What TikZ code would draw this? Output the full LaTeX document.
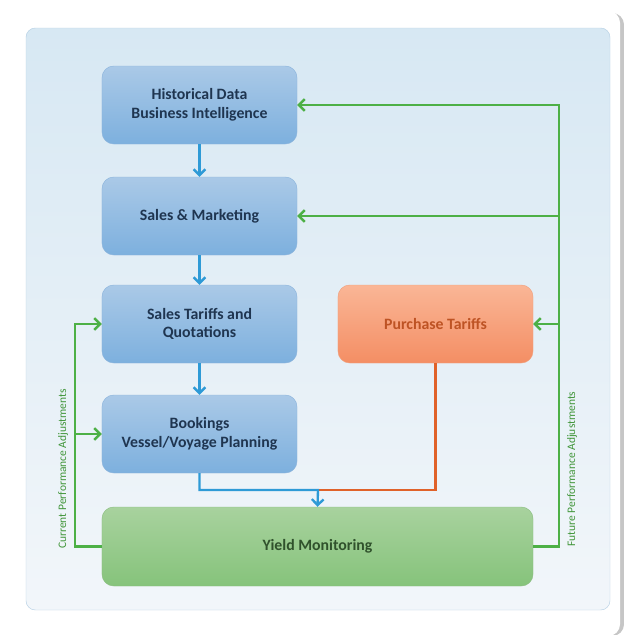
\documentclass[tikz,border=0pt]{standalone}
\usepackage{fontspec}
\setmainfont{Carlito}
\usetikzlibrary{arrows.meta,calc}
\definecolor{navytext}{HTML}{1F3550}
\definecolor{yieldtext}{RGB}{48,82,44}
\definecolor{flowblue}{HTML}{2E9AD6}
\definecolor{flowgreen}{HTML}{4DB046}
\definecolor{floworange}{HTML}{E0622A}
\definecolor{bluetop}{RGB}{170,201,231}
\definecolor{bluebot}{RGB}{125,176,222}
\definecolor{blueedge}{RGB}{140,180,220}
\definecolor{orangetop}{RGB}{250,182,150}
\definecolor{orangebot}{RGB}{244,142,100}
\definecolor{orangeedge}{RGB}{240,160,125}
\definecolor{greentop}{RGB}{168,210,158}
\definecolor{greenbot}{RGB}{134,195,123}
\definecolor{greenedge}{RGB}{140,190,130}
\definecolor{paneltop}{RGB}{215,232,243}
\definecolor{panelbot}{RGB}{242,246,250}
\definecolor{paneledge}{RGB}{185,210,230}
\begin{document}
\begin{tikzpicture}[x=0.03cm,y=-0.03cm,
    stepbox/.style={rounded corners=10pt,draw=#1edge,top color=#1top,bottom color=#1bot,
      line width=0.4pt,minimum width=5.85cm,minimum height=2.34cm,align=center,
      font=\fontsize{13.5}{16}\selectfont\bfseries,text=navytext},
    bluearrow/.style={flowblue,line width=2pt,-{Straight Barb[length=5pt,width=10pt]}},
    greenarrow/.style={flowgreen,line width=2pt,-{Straight Barb[length=5pt,width=10pt]}},
    adjlabel/.style={rotate=90,text=flowgreen!85!black,font=\fontsize{9.8}{11}\selectfont}]
  \useasboundingbox (0,0) rectangle (624,635);
  % card and panel
  \fill[gray!45,rounded corners=10pt] (12,13) rectangle (624,636);
  \fill[white,rounded corners=10pt] (9,11) rectangle (620,636);
  \draw[draw=paneledge,top color=paneltop,bottom color=panelbot,rounded corners=8pt]
    (26,28) rectangle (610,610);
  % boxes
  \node [stepbox=blue] (hist) at (199.5,105) {Historical Data\\Business Intelligence};
  \node [stepbox=blue] (mkt) at (199.5,216) {Sales \& Marketing};
  \node [stepbox=blue] (tariff) at (199.5,324) {Sales Tariffs and\\Quotations};
  \node [stepbox=blue] (book) at (199.5,434) {Bookings\\Vessel/Voyage Planning};
  \node [stepbox=orange,text=floworange!85!black] (purch) at (435.5,324) {Purchase Tariffs};
  \node [stepbox=green,minimum width=12.93cm,minimum height=2.37cm,
    text=yieldtext] (yield) at (317.5,546.5) {Yield Monitoring};
  % main flow
  \coordinate (join) at (318,490);
  \draw [bluearrow] (hist) -- (mkt);
  \draw [bluearrow] (mkt) -- (tariff);
  \draw [bluearrow] (tariff) -- (book);
  \draw [floworange,line width=2pt] (purch.south) |- (join);
  \draw [bluearrow] (book.south) |- (join) -- (yield.north);
  % feedback loops
  \coordinate (fline) at (559,0);
  \coordinate (cline) at (75,0);
  \draw [greenarrow] (yield.east) -| (fline |- hist.east) -- (hist.east);
  \draw [greenarrow] (fline |- mkt.east) -- (mkt.east);
  \draw [greenarrow] (fline |- purch.east) -- (purch.east);
  \draw [greenarrow] (yield.west) -| (cline |- tariff.west) -- (tariff.west);
  \draw [greenarrow] (cline |- book.west) -- (book.west);
  \node [adjlabel] (curlbl) at (63,469) {Current Performance Adjustments};
  \node [adjlabel] (futlbl) at (572,469) {Future Performance Adjustments};
\end{tikzpicture}
\end{document}
